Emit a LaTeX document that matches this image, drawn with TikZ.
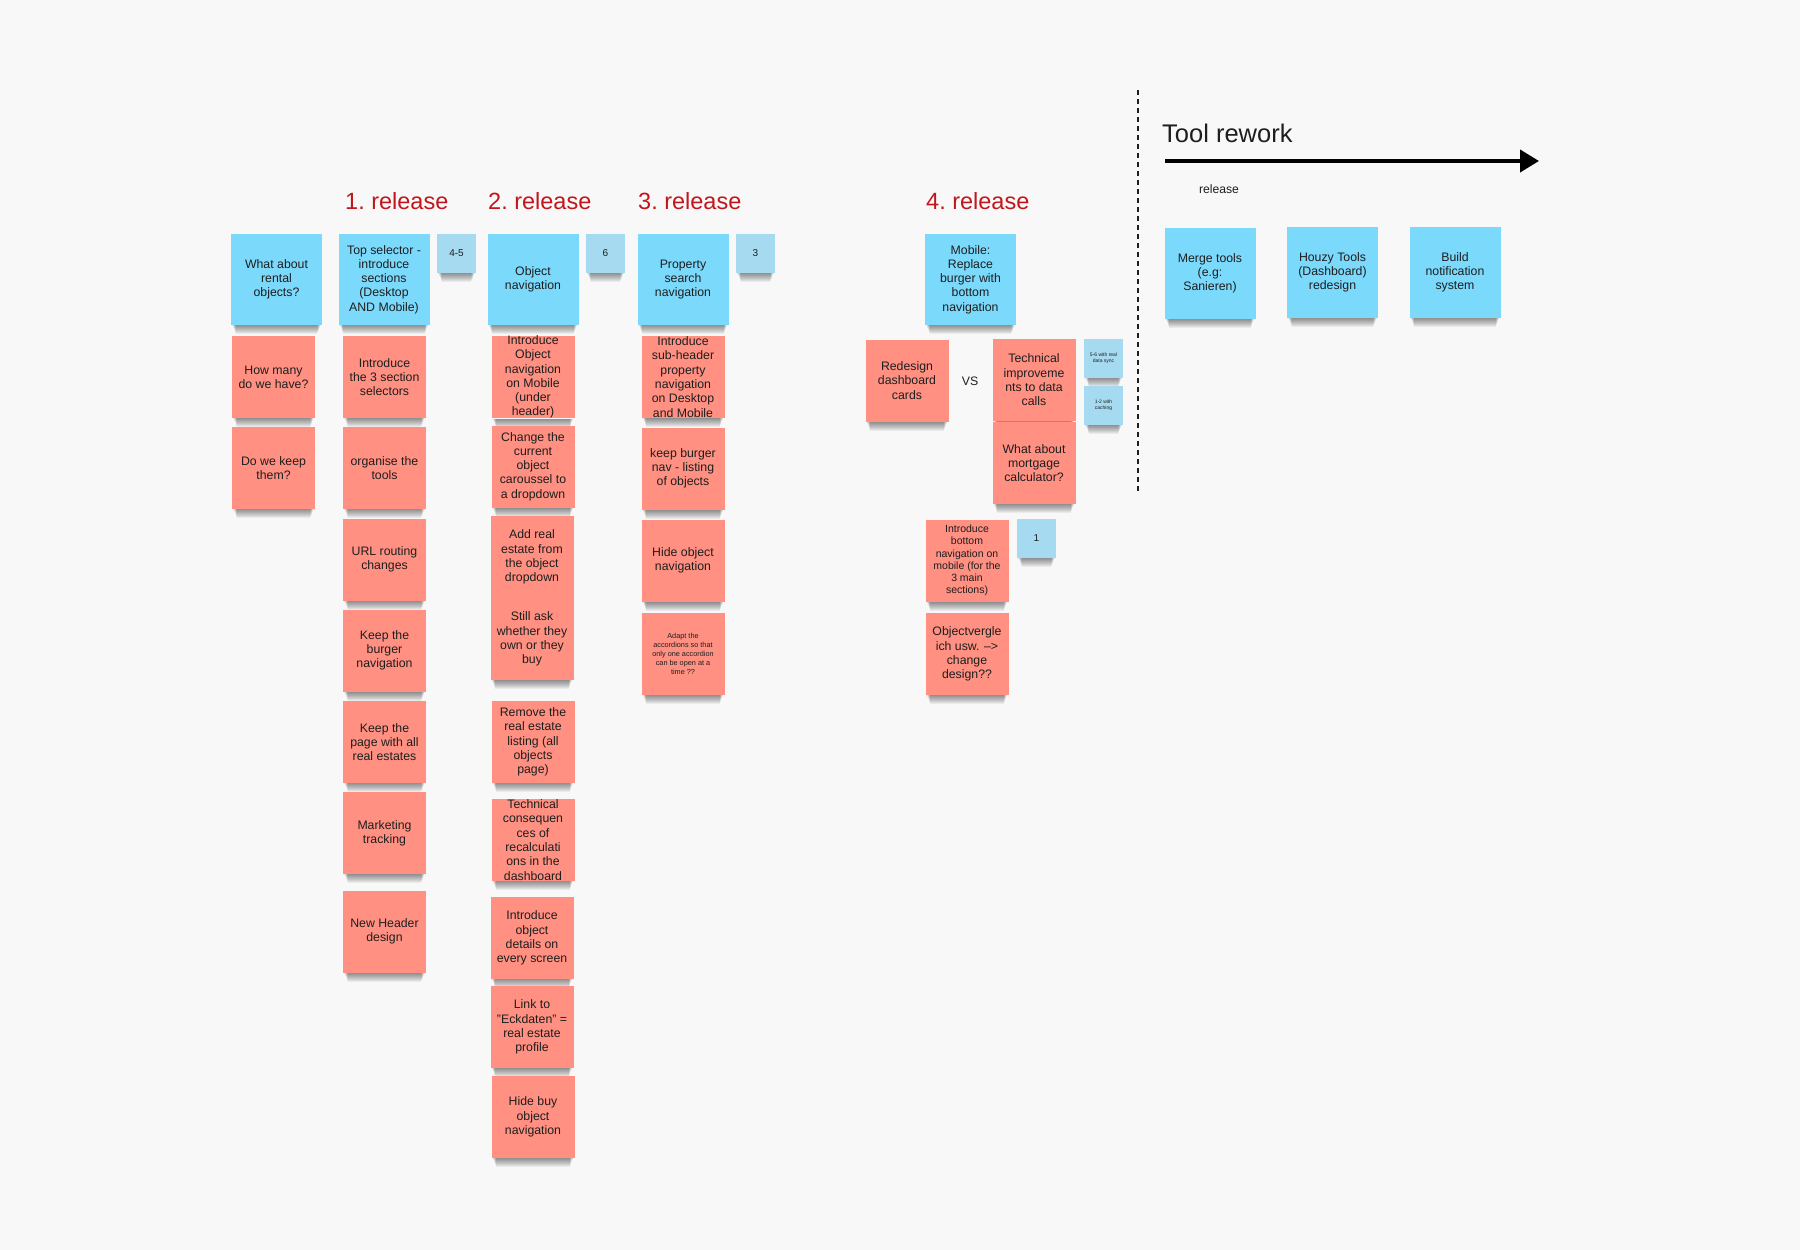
\documentclass[tikz,border=0pt]{standalone}
\usepackage{fontspec}
\setmainfont{Liberation Sans}
\usetikzlibrary{arrows.meta}
\definecolor{bg}{HTML}{F8F8F8}
\definecolor{noteblue}{HTML}{7BD9FC}
\definecolor{notered}{HTML}{FF9082}
\definecolor{notesmall}{HTML}{A5DAF0}
\definecolor{headred}{HTML}{C2161C}
\definecolor{ink}{HTML}{1E1E1E}
\tikzset{
 note/.style={inner sep=0pt, align=center, text=ink,
   font=\fontsize{12.3}{14.3}\selectfont,
   append after command={\pgfextra{\begin{pgfinterruptpath}
     \foreach \k in {1,...,9}{
       \fill[black, opacity=0.055]
         ([xshift={1pt+0.45pt*\k}]\tikzlastnode.south west) rectangle
         ([xshift={-1pt-0.45pt*\k}, yshift={-1pt*\k}]\tikzlastnode.south east);}
     \end{pgfinterruptpath}}}},
 bluenote/.style={note, fill=noteblue, minimum width=91pt, minimum height=91pt},
 rednote/.style={note, fill=notered, minimum width=83pt, minimum height=82pt},
 smallnote/.style={note, fill=notesmall, minimum width=39pt, minimum height=39pt, font=\fontsize{10}{12}\selectfont},
 heading/.style={text=headred, font=\fontsize{23.5}{28}\selectfont, anchor=base west, inner sep=0pt},
 plain/.style={text=ink, inner sep=0pt},
}
\begin{document}
\begin{tikzpicture}[x=1pt,y=-1pt]
\fill[bg] (0,0) rectangle (1800,1250);
\useasboundingbox (0,0) rectangle (1800,1250);

% headings
\node[heading] (h1) at (345,209) {1.\ release};
\node[heading] (h2) at (488,209) {2.\ release};
\node[heading] (h3) at (638,209) {3.\ release};
\node[heading] (h4) at (926,209) {4.\ release};

% column 0
\node[bluenote] (rental) at (276.5,279.5) {What about\\rental\\objects?};
\node[rednote] (howmany) at (273.5,377) {How many\\do we have?};
\node[rednote] (keepthem) at (273.5,468) {Do we keep\\them?};

% column 1
\node[bluenote] (topsel) at (384,279.5) {Top selector -\\introduce\\sections\\(Desktop\\AND Mobile)};
\node[smallnote] (est1) at (456.5,253.5) {4-5};
\node[rednote] (intro3) at (384.5,377) {Introduce\\the 3 section\\selectors};
\node[rednote] (organise) at (384.5,468) {organise the\\tools};
\node[rednote] (url) at (384.5,559.5) {URL routing\\changes};
\node[rednote] (burger) at (384.5,650.5) {Keep the\\burger\\navigation};
\node[rednote] (page) at (384.5,742) {Keep the\\page with all\\real estates};
\node[rednote] (marketing) at (384.5,833) {Marketing\\tracking};
\node[rednote] (header) at (384.5,931.5) {New Header\\design};

% column 2
\node[bluenote] (objnav) at (533,279.5) {Object\\navigation};
\node[smallnote] (est2) at (605.5,253.5) {6};
\node[rednote] (intromobile) at (533,377) {Introduce\\Object\\navigation\\on Mobile\\(under\\header)};
\node[rednote] (change) at (533,466.5) {Change the\\current\\object\\caroussel to\\a dropdown};
\node[rednote] (addreal) at (532,557) {Add real\\estate from\\the object\\dropdown};
\node[rednote] (stillask) at (532,639) {Still ask\\whether they\\own or they\\buy};
\node[rednote] (remove) at (533,742) {Remove the\\real estate\\listing (all\\objects\\page)};
\node[rednote] (techcons) at (533,840) {Technical\\consequen\\ces of\\recalculati\\ons in the\\dashboard};
\node[rednote] (details) at (532,938) {Introduce\\object\\details on\\every screen};
\node[rednote] (link) at (532,1027) {Link to\\"Eckdaten" =\\real estate\\profile};
\node[rednote] (hidebuy) at (533,1117) {Hide buy\\object\\navigation};

% column 3
\node[bluenote] (propsearch) at (683,279.5) {Property\\search\\navigation};
\node[smallnote] (est3) at (755.5,253.5) {3};
\node[rednote] (subheader) at (683,377) {Introduce\\sub-header\\property\\navigation\\on Desktop\\and Mobile};
\node[rednote] (keepburger) at (683,468.5) {keep burger\\nav - listing\\of objects};
\node[rednote] (hideobj) at (683,560.5) {Hide object\\navigation};
\node[rednote, font=\fontsize{7.3}{9}\selectfont] (adapt) at (683,654) {Adapt the\\accordions so that\\only one accordion\\can be open at a\\time ??};

% column 4
\node[bluenote] (mobile) at (970.5,279.5) {Mobile:\\Replace\\burger with\\bottom\\navigation};
\node[rednote] (redesign) at (907,380.5) {Redesign\\dashboard\\cards};
\node[plain, font=\fontsize{12.3}{14.3}\selectfont] (vs) at (970,381) {VS};
\node[rednote] (techimp) at (1034,380) {Technical\\improveme\\nts to data\\calls};
\node[rednote] (mortgage) at (1034,463) {What about\\mortgage\\calculator?};
\node[smallnote, font=\fontsize{5}{6}\selectfont] (sync) at (1103.5,358.5) {5-6 with real\\data sync};
\node[smallnote, font=\fontsize{5}{6}\selectfont] (caching) at (1103.5,405.5) {1-2 with\\caching};
\node[rednote, font=\fontsize{10.5}{12.2}\selectfont] (introbottom) at (967,560.5) {Introduce\\bottom\\navigation on\\mobile (for the\\3 main\\sections)};
\node[smallnote] (est4) at (1036.5,538.5) {1};
\node[rednote] (objvergleich) at (967,654) {Objectvergle\\ich usw. -->\\change\\design??};

% separator
\coordinate (septop) at (1138,90);
\coordinate (sepbot) at (1138,491);
\draw[ink, line width=2.5pt, dash pattern=on 5pt off 4pt] (septop) -- (sepbot);

% tool rework
\node[plain, font=\fontsize{25.5}{30}\selectfont, anchor=base west] (toolrework) at (1162,142) {Tool rework};
\coordinate (arrstart) at (1165,161);
\coordinate (arrend) at (1539,161);
\draw[black, line width=4pt, -{Triangle[length=19pt, width=22pt]}] (arrstart) -- (arrend);
\node[plain, font=\fontsize{12.2}{14}\selectfont] (rel) at (1219,189) {release};

\node[bluenote] (merge) at (1210,273.5) {Merge tools\\(e.g:\\Sanieren)};
\node[bluenote] (houzy) at (1332.5,272.5) {Houzy Tools\\(Dashboard)\\redesign};
\node[bluenote] (build) at (1455,272.5) {Build\\notification\\system};
\end{tikzpicture}
\end{document}
